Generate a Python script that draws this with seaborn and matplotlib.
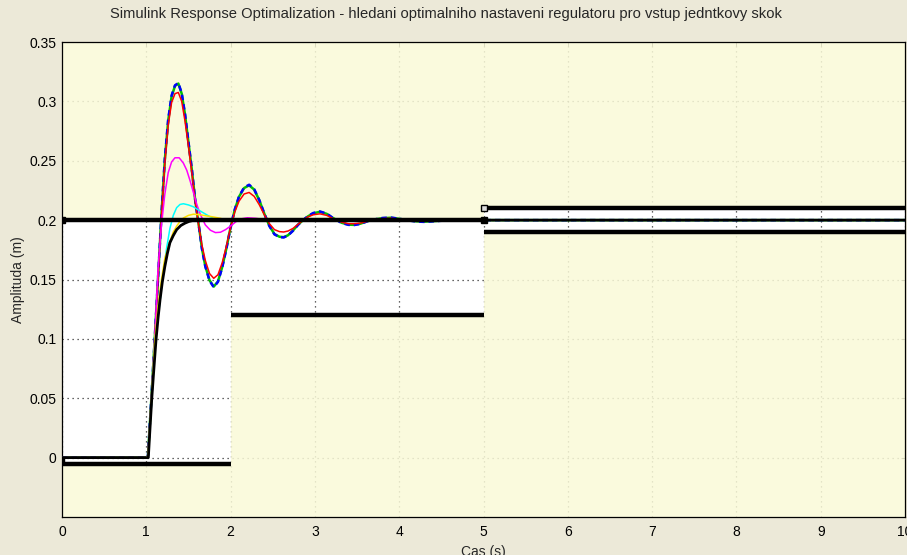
import matplotlib
matplotlib.use("Agg")
import matplotlib.pyplot as plt
import seaborn as sns

# ---- step responses of the optimisation iterations (time in s, amplitude in m) ----
t_osc = [0.0, 1.00, 1.02, 1.06, 1.10, 1.14, 1.18, 1.22, 1.26, 1.30, 1.34, 1.38, 1.42,
         1.46, 1.50, 1.54, 1.58, 1.62, 1.66, 1.70, 1.75, 1.80, 1.85, 1.90, 1.95,
         2.00, 2.05, 2.10, 2.16, 2.22, 2.28, 2.34, 2.40, 2.46, 2.52, 2.58, 2.63,
         2.68, 2.74, 2.80, 2.86, 2.92, 2.98, 3.06, 3.14, 3.20, 3.26, 3.32, 3.40,
         3.46, 3.54, 3.62, 3.70, 3.80, 3.90, 4.00, 4.10, 4.20, 4.30, 4.45, 4.60, 10.0]
y_blue = [0.0, 0.0, 0.002, 0.050, 0.100, 0.152, 0.205, 0.252, 0.285, 0.305, 0.3135, 0.3155, 0.307,
          0.289, 0.266, 0.243, 0.217, 0.197, 0.176, 0.161, 0.149, 0.1435, 0.148, 0.160, 0.176,
          0.194, 0.209, 0.220, 0.2275, 0.2298, 0.226, 0.217, 0.2055, 0.195, 0.188, 0.1857, 0.1854,
          0.187, 0.191, 0.196, 0.200, 0.2035, 0.206, 0.2073, 0.2055, 0.2025, 0.200, 0.1975, 0.196,
          0.1958, 0.1968, 0.199, 0.2005, 0.2018, 0.2022, 0.2012, 0.1998, 0.1988, 0.1985, 0.1992, 0.200, 0.200]
y_green = [0.0, 0.0, 0.002, 0.050, 0.100, 0.152, 0.205, 0.251, 0.284, 0.304, 0.3130, 0.3150, 0.3065,
           0.2885, 0.2655, 0.2425, 0.2168, 0.197, 0.1762, 0.1613, 0.1494, 0.1440, 0.1484, 0.1603, 0.1762,
           0.194, 0.2088, 0.2197, 0.2270, 0.2293, 0.2257, 0.2168, 0.2054, 0.1952, 0.1883, 0.1860, 0.1857,
           0.1872, 0.1912, 0.1962, 0.200, 0.2033, 0.2057, 0.2070, 0.2053, 0.2024, 0.200, 0.1977, 0.1962,
           0.1960, 0.1970, 0.199, 0.2005, 0.2016, 0.2020, 0.2011, 0.1999, 0.1990, 0.1987, 0.1993, 0.200, 0.200]
y_red = [0.0, 0.0, 0.002, 0.050, 0.100, 0.152, 0.203, 0.248, 0.280, 0.299, 0.3065, 0.3075, 0.300,
         0.283, 0.262, 0.240, 0.216, 0.196, 0.179, 0.166, 0.155, 0.151, 0.154, 0.164, 0.178,
         0.194, 0.207, 0.216, 0.222, 0.2233, 0.220, 0.213, 0.2045, 0.197, 0.192, 0.1903, 0.190,
         0.1908, 0.193, 0.1965, 0.200, 0.2028, 0.2045, 0.2053, 0.204, 0.2018, 0.200, 0.1982, 0.197,
         0.197, 0.1975, 0.199, 0.2003, 0.2012, 0.2015, 0.2008, 0.200, 0.1993, 0.1992, 0.1995, 0.200, 0.200]

t_magenta = [0.0, 1.00, 1.02, 1.06, 1.10, 1.14, 1.18, 1.22, 1.26, 1.30, 1.34, 1.39, 1.44, 1.48,
             1.52, 1.56, 1.60, 1.64, 1.70, 1.76, 1.82, 1.88, 1.94, 2.00, 2.06, 2.12, 2.20,
             2.30, 2.40, 2.60, 10.0]
y_magenta = [0.0, 0.0, 0.002, 0.050, 0.100, 0.160, 0.196, 0.222, 0.240, 0.249, 0.2525, 0.2525, 0.248, 0.242,
             0.233, 0.223, 0.213, 0.205, 0.196, 0.1915, 0.1895, 0.1898, 0.192, 0.195, 0.1985, 0.201, 0.202,
             0.2015, 0.2005, 0.200, 0.200]

t_cyan = [0.0, 1.00, 1.02, 1.06, 1.10, 1.16, 1.20, 1.24, 1.28, 1.32, 1.36, 1.40, 1.44, 1.50,
          1.56, 1.62, 1.68, 1.74, 1.80, 1.85, 10.0]
y_cyan = [0.0, 0.0, 0.002, 0.050, 0.098, 0.130, 0.155, 0.176, 0.193, 0.204, 0.2105, 0.2132, 0.2138, 0.2128,
          0.2112, 0.2085, 0.206, 0.2035, 0.2015, 0.200, 0.200]

t_yellow = [0.0, 1.00, 1.02, 1.06, 1.10, 1.14, 1.18, 1.22, 1.28, 1.32, 1.36, 1.40, 1.44, 1.50,
            1.56, 1.64, 1.72, 1.80, 1.88, 1.95, 10.0]
y_yellow = [0.0, 0.0, 0.002, 0.050, 0.098, 0.128, 0.150, 0.168, 0.182, 0.190, 0.195, 0.199, 0.2018, 0.204,
            0.205, 0.2045, 0.2035, 0.2026, 0.2015, 0.200, 0.200]

t_black = [0.0, 1.00, 1.024, 1.04, 1.064, 1.09, 1.115, 1.14, 1.163, 1.19, 1.22, 1.25, 1.28, 1.32,
           1.36, 1.41, 1.46, 1.51, 1.56, 1.70, 10.0]
y_black = [0.0, 0.0, 0.0, 0.020, 0.049, 0.075, 0.099, 0.118, 0.133, 0.148, 0.161, 0.172, 0.181, 0.187,
           0.192, 0.1955, 0.1975, 0.199, 0.1998, 0.200, 0.200]

# ---- step-response bound segments ----
upper_x = [[0.0, 5.0], [5.0, 10.0]]
upper_y = [[0.20, 0.20], [0.21, 0.21]]
lower_x = [[0.0, 2.0], [2.0, 5.0], [5.0, 10.0]]
lower_y = [[-0.005, -0.005], [0.12, 0.12], [0.19, 0.19]]

x_ticks = [0, 1, 2, 3, 4, 5, 6, 7, 8, 9, 10]
y_ticks = [0, 0.05, 0.1, 0.15, 0.2, 0.25, 0.3, 0.35]
y_ticklabels = ["0", "0.05", "0.1", "0.15", "0.2", "0.25", "0.3", "0.35"]

title = "Simulink Response Optimalization - hledani optimalniho nastaveni regulatoru pro vstup jedntkovy skok"
xlabel = "Cas (s)"
ylabel = "Amplituda (m)"

sns.set_style("white")
plt.rcParams["font.family"] = ["Liberation Sans", "DejaVu Sans"]

fig = plt.figure(figsize=(9.07, 5.55), dpi=100, facecolor="#ECE9D8")
ax = fig.add_axes([62 / 907, 38 / 555, 843 / 907, 475 / 555])
ax.set_facecolor("white")
ax.set_xlim(0, 10)
ax.set_ylim(-0.05, 0.35)

# grid under the constraint patches
ax.set_xticks(x_ticks)
ax.set_yticks(y_ticks)
ax.set_yticklabels(y_ticklabels)
ax.grid(True, color="#333333", linestyle=(0, (1, 3)), linewidth=0.9)
ax.set_axisbelow(True)

# shaded infeasible regions above the upper and below the lower bounds
yellow = "#FAFAD8"
for xs, ys in zip(upper_x, upper_y):
    ax.fill_between(xs, ys, 0.35, color=yellow, alpha=0.85, linewidth=0, zorder=1)
for xs, ys in zip(lower_x, lower_y):
    ax.fill_between(xs, -0.05, ys, color=yellow, alpha=0.85, linewidth=0, zorder=1)

# responses
sns.lineplot(x=t_osc, y=y_green, ax=ax, color="#00C000", linewidth=1.8, estimator=None, sort=False, zorder=3)
sns.lineplot(x=t_osc, y=y_blue, ax=ax, color="#0000FF", linewidth=1.8, estimator=None, sort=False,
             linestyle=(0, (2.2, 1.6)), zorder=3)
sns.lineplot(x=t_osc, y=y_red, ax=ax, color="#FF0000", linewidth=1.1, estimator=None, sort=False, zorder=3)
sns.lineplot(x=t_magenta, y=y_magenta, ax=ax, color="#FF00FF", linewidth=1.1, estimator=None, sort=False, zorder=3)
sns.lineplot(x=t_cyan, y=y_cyan, ax=ax, color="#00FFFF", linewidth=1.1, estimator=None, sort=False, zorder=3)
sns.lineplot(x=t_yellow, y=y_yellow, ax=ax, color="#FFE000", linewidth=1.1, estimator=None, sort=False, zorder=3)
sns.lineplot(x=t_black, y=y_black, ax=ax, color="black", linewidth=2.0, estimator=None, sort=False, zorder=4)

# bounds
for xs, ys in zip(upper_x, upper_y):
    ax.plot(xs, ys, color="black", linewidth=3.2, solid_capstyle="butt", zorder=5)
for xs, ys in zip(lower_x, lower_y):
    ax.plot(xs, ys, color="black", linewidth=3.2, solid_capstyle="butt", zorder=5)

# segment end markers
ax.plot([upper_x[0][0], upper_x[0][1]], [upper_y[0][0], upper_y[0][1]], linestyle="none",
        marker="s", markersize=4, color="black", zorder=6)
ax.plot([upper_x[1][0]], [upper_y[1][0]], linestyle="none", marker="s", markersize=4.5,
        markerfacecolor="#DDDDDD", markeredgecolor="black", zorder=6)
ax.plot([lower_x[0][0]], [lower_y[0][0] + 0.003], linestyle="none", marker="s", markersize=3.5,
        color="black", zorder=6)

for side in ["left", "bottom", "top", "right"]:
    ax.spines[side].set_visible(True)
    ax.spines[side].set_color("black")
    ax.spines[side].set_linewidth(0.9)

ax.tick_params(direction="in", length=3, width=0.6, top=True, right=True,
               labelsize=10, colors="black")
ax.tick_params(axis="y", pad=4)
ax.tick_params(axis="x", pad=6)
ax.set_title(title, fontsize=10.6, pad=17, x=0.455)
ax.set_xlabel(xlabel, fontsize=10, labelpad=4)
ax.set_ylabel(ylabel, fontsize=10, labelpad=3)

fig.savefig("out.png", dpi=100, facecolor=fig.get_facecolor())
